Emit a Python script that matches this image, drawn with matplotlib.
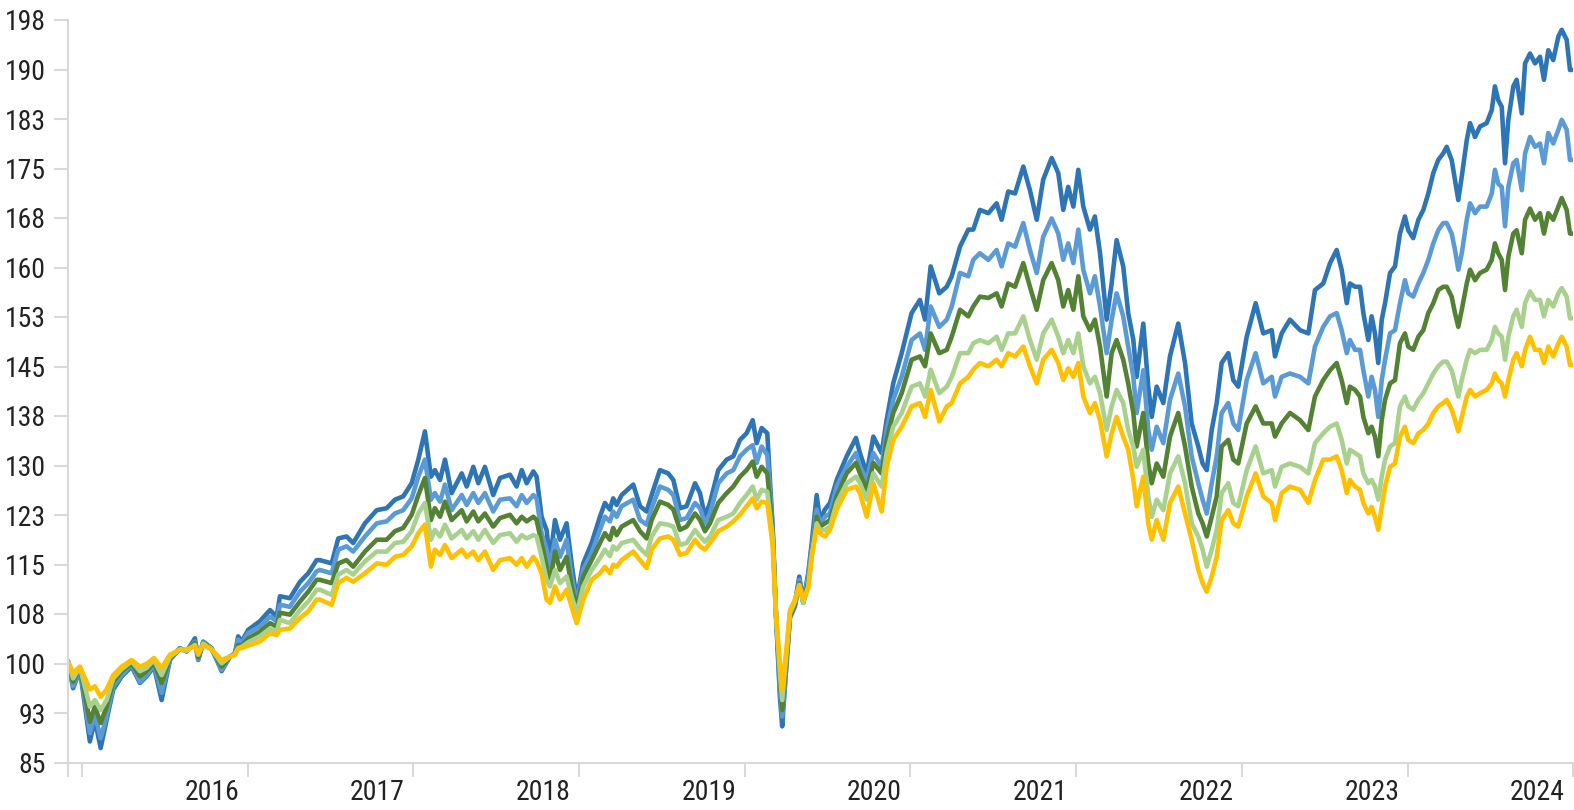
import matplotlib
matplotlib.use("Agg")
import matplotlib.pyplot as plt
import numpy as np

# time axis in decimal years
years = [
    2015.916, 2015.947, 2015.988, 2016.048, 2016.078, 2016.113, 2016.149, 2016.189, 2016.240, 2016.300,
    2016.350, 2016.390, 2016.435, 2016.481, 2016.531, 2016.591, 2016.632, 2016.682, 2016.702, 2016.732,
    2016.783, 2016.843, 2016.893, 2016.923, 2016.943, 2016.964, 2017.004, 2017.074, 2017.135, 2017.175,
    2017.195, 2017.255, 2017.316, 2017.366, 2017.416,
    2017.436, 2017.507, 2017.547, 2017.597, 2017.637, 2017.708, 2017.779, 2017.839, 2017.889, 2017.939,
    2017.990, 2018.030, 2018.070, 2018.106, 2018.130, 2018.161, 2018.191, 2018.231, 2018.292, 2018.322,
    2018.362, 2018.392, 2018.432, 2018.482, 2018.523, 2018.583, 2018.623, 2018.654, 2018.684, 2018.724,
    2018.744, 2018.774, 2018.804, 2018.824, 2018.855, 2018.885, 2018.925, 2018.955, 2018.986, 2019.025,
    2019.076,
    2019.126, 2019.156, 2019.186, 2019.206, 2019.227, 2019.257, 2019.327, 2019.368, 2019.408, 2019.438,
    2019.488, 2019.538, 2019.569, 2019.609, 2019.649, 2019.700, 2019.730, 2019.760, 2019.790, 2019.840,
    2019.891, 2019.931, 2019.971, 2020.011, 2020.048, 2020.072, 2020.102, 2020.136, 2020.168, 2020.188,
    2020.212, 2020.226, 2020.253, 2020.273, 2020.303, 2020.329, 2020.353, 2020.383, 2020.404, 2020.434,
    2020.454, 2020.484, 2020.514, 2020.555, 2020.615, 2020.671,
    2020.695, 2020.736, 2020.776, 2020.826, 2020.856, 2020.896, 2020.947, 2021.007, 2021.057, 2021.088,
    2021.122, 2021.174, 2021.219, 2021.249, 2021.299, 2021.349, 2021.379, 2021.419, 2021.470, 2021.520,
    2021.550, 2021.590, 2021.631, 2021.681, 2021.721, 2021.762, 2021.801, 2021.852, 2021.892, 2021.922,
    2021.952, 2021.983, 2022.013, 2022.043, 2022.083, 2022.113, 2022.144, 2022.184, 2022.214,
    2022.244, 2022.284, 2022.314, 2022.345, 2022.365, 2022.405, 2022.435, 2022.456, 2022.486, 2022.526,
    2022.566, 2022.616, 2022.657, 2022.697, 2022.737, 2022.763, 2022.788, 2022.818, 2022.848, 2022.878,
    2022.918, 2022.948, 2022.978, 2023.029, 2023.083, 2023.129, 2023.180, 2023.200, 2023.240, 2023.290,
    2023.351, 2023.401, 2023.441, 2023.491, 2023.532, 2023.572, 2023.602,
    2023.633, 2023.652, 2023.683, 2023.713, 2023.733, 2023.763, 2023.783, 2023.803, 2023.823, 2023.844,
    2023.864, 2023.894, 2023.924, 2023.954, 2023.984, 2024.004, 2024.034, 2024.065, 2024.095, 2024.125,
    2024.155, 2024.185, 2024.215, 2024.236, 2024.266, 2024.286, 2024.306, 2024.327, 2024.357, 2024.377,
    2024.407, 2024.437, 2024.477, 2024.508, 2024.527, 2024.547, 2024.568, 2024.588, 2024.608, 2024.638,
    2024.658, 2024.689, 2024.709, 2024.739, 2024.769, 2024.799, 2024.823, 2024.849, 2024.879, 2024.910,
    2024.930, 2024.960, 2024.980, 2025.000,
]

dark_blue = [
    100.4, 96.3, 99.1, 88.2, 91.5, 87.2, 91.5, 96.1, 98.1, 99.6, 97.1, 98.1, 99.6, 94.5, 100.6, 102.4,
    101.9, 103.9, 100.6, 103.4, 102.4, 98.9, 101.1, 101.6, 104.2, 103.4, 105.2, 106.5, 108.2, 107.2,
    110.3, 110.0, 112.5, 113.8, 115.8,
    115.8, 115.3, 119.1, 119.4, 118.4, 121.4, 123.4, 123.7, 125.0, 125.5, 127.5, 131.1, 135.4, 128.5,
    129.5, 128.0, 131.1, 126.0, 129.0, 127.0, 130.0, 127.5, 130.0, 125.7, 128.3, 128.8, 127.0, 129.5,
    127.5, 129.3, 128.5, 122.4, 120.4, 115.8, 121.9, 118.9, 121.4, 115.3, 109.8, 115.3, 118.4,
    122.4, 124.5, 123.5, 125.2, 124.2, 125.7, 127.3, 124.0, 123.2, 125.7, 129.5, 129.0, 128.0, 123.7,
    124.0, 127.5, 126.0, 122.4, 124.5, 129.5, 131.1, 131.6, 134.1, 135.1, 137.1, 133.6, 135.9, 135.1,
    120.9, 107.7, 95.0, 90.5, 100.6, 107.7, 109.3, 113.3, 109.5, 113.8, 118.4, 125.7, 121.9, 123.5,
    124.5, 128.0, 131.6, 134.4,
    132.1, 129.0, 134.6, 132.1, 137.1, 142.7, 147.3, 153.4, 155.4, 152.4, 160.5, 156.4, 157.4, 159.0,
    163.5, 166.1, 166.1, 169.1, 168.6, 170.1, 167.6, 171.9, 171.6, 175.7, 172.1, 167.6, 173.7, 177.0,
    174.7, 169.1, 172.6, 169.6, 175.2, 169.6, 166.1, 168.1, 162.5, 152.4, 157.9,
    164.5, 160.5, 153.4, 149.3, 143.7, 151.8, 142.2, 137.6, 142.2, 139.7, 146.8, 151.8, 145.8, 136.6,
    133.1, 130.5, 129.5, 135.6, 139.7, 145.8, 147.3, 143.2, 142.2, 149.8, 154.9, 150.3, 150.8, 146.8,
    150.3, 152.4, 150.8, 150.3, 156.9, 157.9, 161.0, 163.0, 160.0,
    154.9, 157.9, 157.4, 157.4, 153.4, 149.3, 152.9, 150.3, 145.8, 152.4, 154.9, 159.5, 160.5, 165.5,
    168.1, 166.0, 164.8, 167.6, 169.1, 171.6, 174.7, 176.7, 177.7, 178.7, 176.7, 173.7, 170.6, 174.2,
    179.7, 182.3, 180.2, 181.8, 182.3, 184.3, 187.9, 185.8, 184.8, 176.2, 182.8, 187.9, 188.9, 183.8,
    191.4, 192.9, 191.4, 192.4, 188.9, 193.4, 191.9, 195.5, 196.5, 195.0, 190.4, 190.4,
]

light_blue = [
    100.4, 96.6, 99.2, 89.5, 92.3, 88.7, 92.0, 96.6, 98.3, 99.9, 97.3, 98.3, 99.9, 95.6, 100.7, 102.4,
    101.9, 103.4, 100.7, 103.3, 102.3, 99.1, 101.1, 101.5, 103.7, 103.2, 104.7, 105.7, 107.2, 106.5,
    109.0, 108.7, 111.0, 112.3, 114.1,
    114.3, 113.8, 117.4, 117.9, 117.1, 119.4, 121.4, 121.7, 122.9, 123.4, 125.2, 128.5, 131.1, 125.0,
    126.0, 124.7, 127.3, 123.4, 125.7, 124.2, 126.0, 124.5, 126.0, 123.2, 125.0, 125.2, 124.0, 125.7,
    124.5, 125.7, 125.2, 119.9, 117.4, 114.8, 118.9, 116.3, 118.9, 113.3, 109.3, 114.3, 116.9,
    120.4, 122.4, 121.7, 123.2, 122.4, 124.0, 125.0, 121.9, 121.2, 123.7, 127.0, 126.5, 125.7, 121.9,
    122.2, 124.5, 123.7, 121.4, 122.9, 127.5, 129.0, 129.5, 131.6, 132.6, 133.3, 130.6, 133.1, 131.8,
    120.9, 107.7, 96.1, 92.0, 100.1, 107.0, 108.7, 112.8, 109.3, 113.3, 117.4, 123.5, 121.4, 122.4,
    122.9, 127.0, 130.0, 132.1,
    130.0, 128.0, 132.1, 130.0, 135.6, 140.2, 143.7, 149.3, 150.3, 147.8, 154.4, 151.3, 152.4, 154.4,
    159.5, 159.0, 161.5, 162.5, 161.5, 163.0, 160.5, 164.0, 163.5, 167.1, 163.0, 159.5, 165.0, 167.8,
    165.5, 161.5, 164.0, 161.0, 166.1, 160.0, 156.4, 159.0, 154.4, 147.3, 152.4,
    156.4, 152.9, 148.3, 143.7, 138.2, 144.7, 135.6, 132.6, 136.1, 133.6, 140.2, 144.2, 139.2, 131.6,
    127.5, 125.0, 122.9, 127.5, 131.6, 138.2, 139.7, 136.6, 135.6, 143.2, 147.3, 142.7, 143.7, 140.7,
    143.7, 144.2, 143.7, 142.7, 148.3, 151.3, 152.9, 153.4, 150.8,
    147.3, 149.3, 147.8, 147.8, 144.7, 140.7, 143.7, 141.7, 137.6, 143.2, 146.3, 150.3, 150.8, 154.9,
    158.4, 156.4, 155.9, 157.9, 159.5, 161.5, 164.0, 166.0, 167.1, 167.1, 165.5, 163.0, 160.0, 162.5,
    167.6, 170.1, 168.6, 169.6, 169.6, 171.6, 175.2, 173.1, 172.6, 166.6, 172.6, 176.2, 176.7, 172.1,
    177.7, 180.2, 178.7, 179.2, 176.2, 180.8, 179.2, 181.3, 182.8, 181.3, 176.7, 176.7,
]

dark_green = [
    100.4, 97.3, 99.4, 91.2, 93.5, 91.0, 93.5, 97.3, 98.9, 100.1, 98.1, 98.9, 100.2, 97.1, 100.9, 102.3,
    102.0, 103.2, 101.0, 103.2, 102.2, 99.6, 101.1, 101.5, 102.9, 102.8, 103.9, 104.9, 106.2, 105.7,
    107.8, 107.5, 109.5, 111.0, 112.8,
    112.8, 112.3, 115.3, 115.8, 114.8, 117.1, 118.9, 118.9, 120.2, 120.7, 122.7, 125.7, 128.3, 121.9,
    123.7, 122.4, 124.7, 121.9, 123.4, 121.7, 123.2, 121.7, 122.9, 120.9, 122.2, 122.7, 121.4, 122.4,
    121.7, 122.4, 121.9, 118.4, 114.8, 112.3, 117.1, 114.3, 116.3, 111.8, 108.5, 113.3, 115.8,
    118.4, 119.9, 118.9, 120.7, 119.6, 120.9, 121.9, 120.2, 119.1, 121.9, 124.7, 124.2, 123.5, 120.4,
    120.9, 122.9, 121.9, 120.2, 121.4, 124.5, 126.0, 127.0, 128.5, 129.5, 130.8, 128.5, 130.0, 129.0,
    120.4, 107.7, 97.6, 93.0, 101.1, 107.2, 109.0, 112.3, 109.3, 112.3, 116.6, 122.4, 120.9, 121.4,
    121.9, 125.5, 129.0, 130.6,
    129.0, 126.5, 130.6, 129.0, 134.1, 138.2, 141.2, 146.3, 146.8, 145.3, 150.3, 147.3, 147.8, 149.8,
    153.9, 152.9, 154.4, 155.9, 155.7, 156.4, 154.4, 157.9, 157.4, 161.0, 157.4, 153.9, 158.4, 161.0,
    158.4, 154.4, 156.9, 153.9, 159.0, 152.9, 150.8, 152.4, 148.3, 140.7, 147.3,
    149.3, 146.3, 142.7, 138.2, 133.1, 138.2, 130.5, 127.5, 130.5, 128.5, 134.6, 138.2, 133.1, 127.0,
    122.9, 121.4, 119.4, 122.4, 125.5, 133.1, 134.1, 131.1, 130.5, 136.6, 139.2, 136.6, 136.6, 134.6,
    136.6, 138.2, 137.1, 135.6, 140.7, 143.2, 144.7, 145.8, 143.2,
    139.7, 142.2, 141.7, 140.7, 137.6, 135.1, 136.1, 134.6, 131.6, 137.1, 140.2, 142.7, 143.2, 148.8,
    150.3, 148.3, 147.8, 149.8, 150.8, 153.4, 154.9, 156.9, 157.4, 157.4, 155.9, 153.4, 151.3, 153.9,
    157.9, 160.0, 158.4, 159.5, 160.0, 161.5, 164.0, 162.5, 161.5, 156.9, 162.0, 165.5, 166.0, 162.5,
    167.6, 169.3, 167.6, 168.6, 165.5, 168.6, 167.6, 169.6, 170.9, 169.1, 165.5, 165.5,
]

light_green = [
    100.4, 97.8, 99.5, 93.5, 94.5, 93.0, 94.5, 97.8, 99.2, 100.4, 98.9, 99.4, 100.6, 98.3, 101.1, 102.2,
    102.0, 102.9, 101.4, 103.1, 102.2, 100.1, 101.1, 101.4, 102.4, 102.6, 103.3, 104.2, 105.4, 104.9,
    106.7, 106.2, 108.2, 109.5, 111.3,
    111.3, 110.5, 113.6, 114.3, 113.6, 115.6, 117.1, 117.1, 118.4, 118.6, 120.2, 122.9, 124.5, 118.9,
    120.4, 119.4, 121.2, 119.1, 120.4, 119.1, 120.2, 118.9, 120.4, 118.4, 119.6, 119.9, 118.6, 119.6,
    119.1, 119.6, 119.4, 116.3, 112.8, 111.8, 114.3, 112.3, 113.3, 110.3, 107.7, 111.8, 114.3,
    116.1, 117.4, 116.4, 117.9, 117.4, 118.4, 118.9, 117.6, 116.6, 119.4, 121.4, 121.2, 120.9, 118.1,
    118.4, 120.4, 119.4, 118.6, 119.4, 121.9, 122.4, 122.9, 124.5, 125.7, 127.0, 125.0, 126.5, 126.2,
    119.4, 107.7, 98.6, 94.5, 101.9, 107.7, 109.5, 112.0, 109.3, 111.8, 116.4, 121.4, 120.4, 120.4,
    120.9, 124.5, 127.5, 128.5,
    127.5, 125.0, 129.0, 127.0, 132.1, 136.1, 138.2, 142.2, 142.7, 140.7, 144.8, 141.2, 142.2, 143.7,
    147.3, 147.3, 148.8, 149.3, 148.8, 149.8, 147.8, 150.3, 150.3, 152.9, 149.3, 146.3, 150.3, 152.4,
    149.8, 147.3, 149.3, 147.3, 150.3, 145.3, 142.7, 143.7, 141.2, 135.6, 139.2,
    141.7, 139.7, 135.6, 133.1, 130.0, 132.6, 125.5, 122.4, 125.0, 123.4, 129.0, 131.6, 127.5, 121.4,
    119.4, 117.4, 114.8, 117.4, 120.4, 126.0, 127.5, 124.5, 124.0, 129.5, 133.1, 129.0, 129.5, 127.0,
    130.0, 130.5, 130.0, 129.0, 133.6, 135.1, 136.1, 136.6, 134.1,
    130.5, 132.6, 132.1, 131.6, 129.0, 127.5, 128.0, 127.0, 125.0, 128.5, 131.1, 133.1, 133.6, 139.2,
    140.7, 139.2, 138.7, 140.2, 141.2, 142.7, 144.2, 145.3, 146.0, 146.0, 144.7, 142.7, 140.7, 143.2,
    146.3, 147.8, 147.3, 147.8, 147.8, 149.3, 151.3, 150.3, 149.8, 146.3, 149.8, 152.9, 153.9, 151.3,
    154.9, 156.7, 155.4, 155.4, 152.9, 155.4, 154.4, 156.4, 157.2, 155.9, 152.6, 152.6,
]

gold = [
    100.4, 98.6, 99.6, 96.1, 96.6, 95.0, 96.1, 98.3, 99.6, 100.6, 99.6, 100.0, 100.9, 99.4, 101.4, 102.2,
    102.2, 102.7, 101.6, 102.9, 102.2, 100.6, 101.1, 101.4, 102.4, 102.4, 102.8, 103.4, 104.7, 104.4,
    105.2, 105.4, 107.0, 108.0, 109.8,
    109.8, 109.0, 112.3, 113.1, 112.5, 113.8, 115.3, 115.1, 116.3, 116.6, 117.9, 119.9, 121.2, 114.8,
    117.4, 116.6, 118.1, 116.1, 117.4, 116.3, 117.1, 115.8, 117.1, 114.3, 115.8, 116.1, 115.1, 116.1,
    114.8, 116.3, 115.6, 113.8, 109.8, 109.3, 111.8, 109.8, 111.3, 108.7, 106.2, 109.8, 112.8,
    113.8, 114.8, 113.8, 115.1, 114.8, 115.8, 117.1, 115.8, 114.6, 117.4, 119.1, 119.4, 118.9, 116.6,
    116.9, 118.9, 117.9, 117.4, 118.4, 120.2, 120.9, 121.7, 122.7, 124.0, 125.2, 123.7, 124.7, 124.5,
    118.1, 107.7, 100.1, 96.1, 102.7, 108.2, 109.8, 112.0, 109.8, 111.5, 116.4, 120.7, 119.9, 119.4,
    120.4, 123.5, 126.5, 127.0,
    126.0, 122.4, 127.5, 123.2, 130.0, 134.1, 136.1, 139.2, 139.7, 137.6, 141.7, 136.9, 139.2, 139.7,
    142.7, 143.7, 144.8, 145.8, 145.3, 146.3, 145.3, 147.3, 146.8, 148.3, 145.3, 142.7, 146.3, 147.8,
    145.8, 143.2, 145.0, 143.7, 145.8, 140.7, 138.2, 139.7, 137.1, 131.6, 135.1,
    137.6, 134.6, 132.6, 128.0, 124.0, 128.5, 121.4, 118.9, 121.9, 118.9, 124.5, 127.0, 122.9, 118.9,
    114.3, 112.3, 111.0, 113.3, 116.3, 121.9, 123.4, 121.4, 120.9, 125.5, 129.0, 125.5, 124.5, 121.9,
    126.0, 127.0, 126.5, 124.5, 128.0, 131.1, 131.1, 131.6, 129.5,
    126.0, 128.0, 127.0, 126.5, 124.5, 122.9, 123.9, 122.4, 120.4, 123.9, 127.0, 130.0, 130.5, 134.6,
    136.1, 134.1, 133.6, 135.1, 135.6, 136.6, 138.2, 139.2, 139.7, 140.2, 138.7, 137.1, 135.4, 137.6,
    140.7, 141.7, 140.7, 141.2, 141.7, 142.7, 144.2, 143.2, 142.7, 140.7, 143.2, 146.3, 147.3, 145.3,
    147.8, 149.8, 147.8, 147.8, 145.8, 148.3, 146.8, 148.8, 149.8, 148.3, 145.5, 145.5,
]

y_tick_labels = ["85", "93", "100", "108", "115", "123", "130", "138",
                 "145", "153", "160", "168", "175", "183", "190", "198"]
year_labels = [2016, 2017, 2018, 2019, 2020, 2021, 2022, 2023, 2024]

series = [dark_blue, light_blue, dark_green, light_green, gold]
colors = ["#2E75B6", "#5B9BD5", "#548235", "#A9D18E", "#FFC000"]

for s in series:
    assert len(s) == len(years), (len(s), len(years))

plt.rcParams['font.family'] = ['Roboto Condensed', 'Liberation Sans Narrow', 'DejaVu Sans']
grey = "#d9d9d9"
txt = "#222222"

fig = plt.figure(figsize=(15.74, 8.10), dpi=100)
ax = fig.add_axes([68 / 1574, 1 - 762.5 / 810, 1505.3 / 1574, 742.5 / 810])

for vals, col in zip(series, colors):
    ax.plot(years, vals, color=col, lw=3.3, solid_joinstyle='round', solid_capstyle='round')

ax.set_xlim(years[0], 2025.0)
ax.set_ylim(85, 198)
ax.set_yticks(np.linspace(85, 198, 16), y_tick_labels)
ax.set_xticks([years[0]] + [y + 1 for y in year_labels] + [2016])
ax.set_xticklabels([])

for sp in ['top', 'right']:
    ax.spines[sp].set_visible(False)
for sp in ['left', 'bottom']:
    ax.spines[sp].set_color(grey)
    ax.spines[sp].set_linewidth(1.5)

ax.tick_params(axis='both', color=grey, width=1.5, length=10)
ax.tick_params(axis='y', labelsize=20, labelcolor=txt, pad=6)

for yr in year_labels:
    ax.annotate(str(yr), xy=(yr + 1, 0), xycoords=('data', 'axes fraction'),
                xytext=(-6, -12), textcoords='offset points',
                ha='right', va='top', fontsize=20, color=txt)

fig.savefig("out.png", dpi=100)
